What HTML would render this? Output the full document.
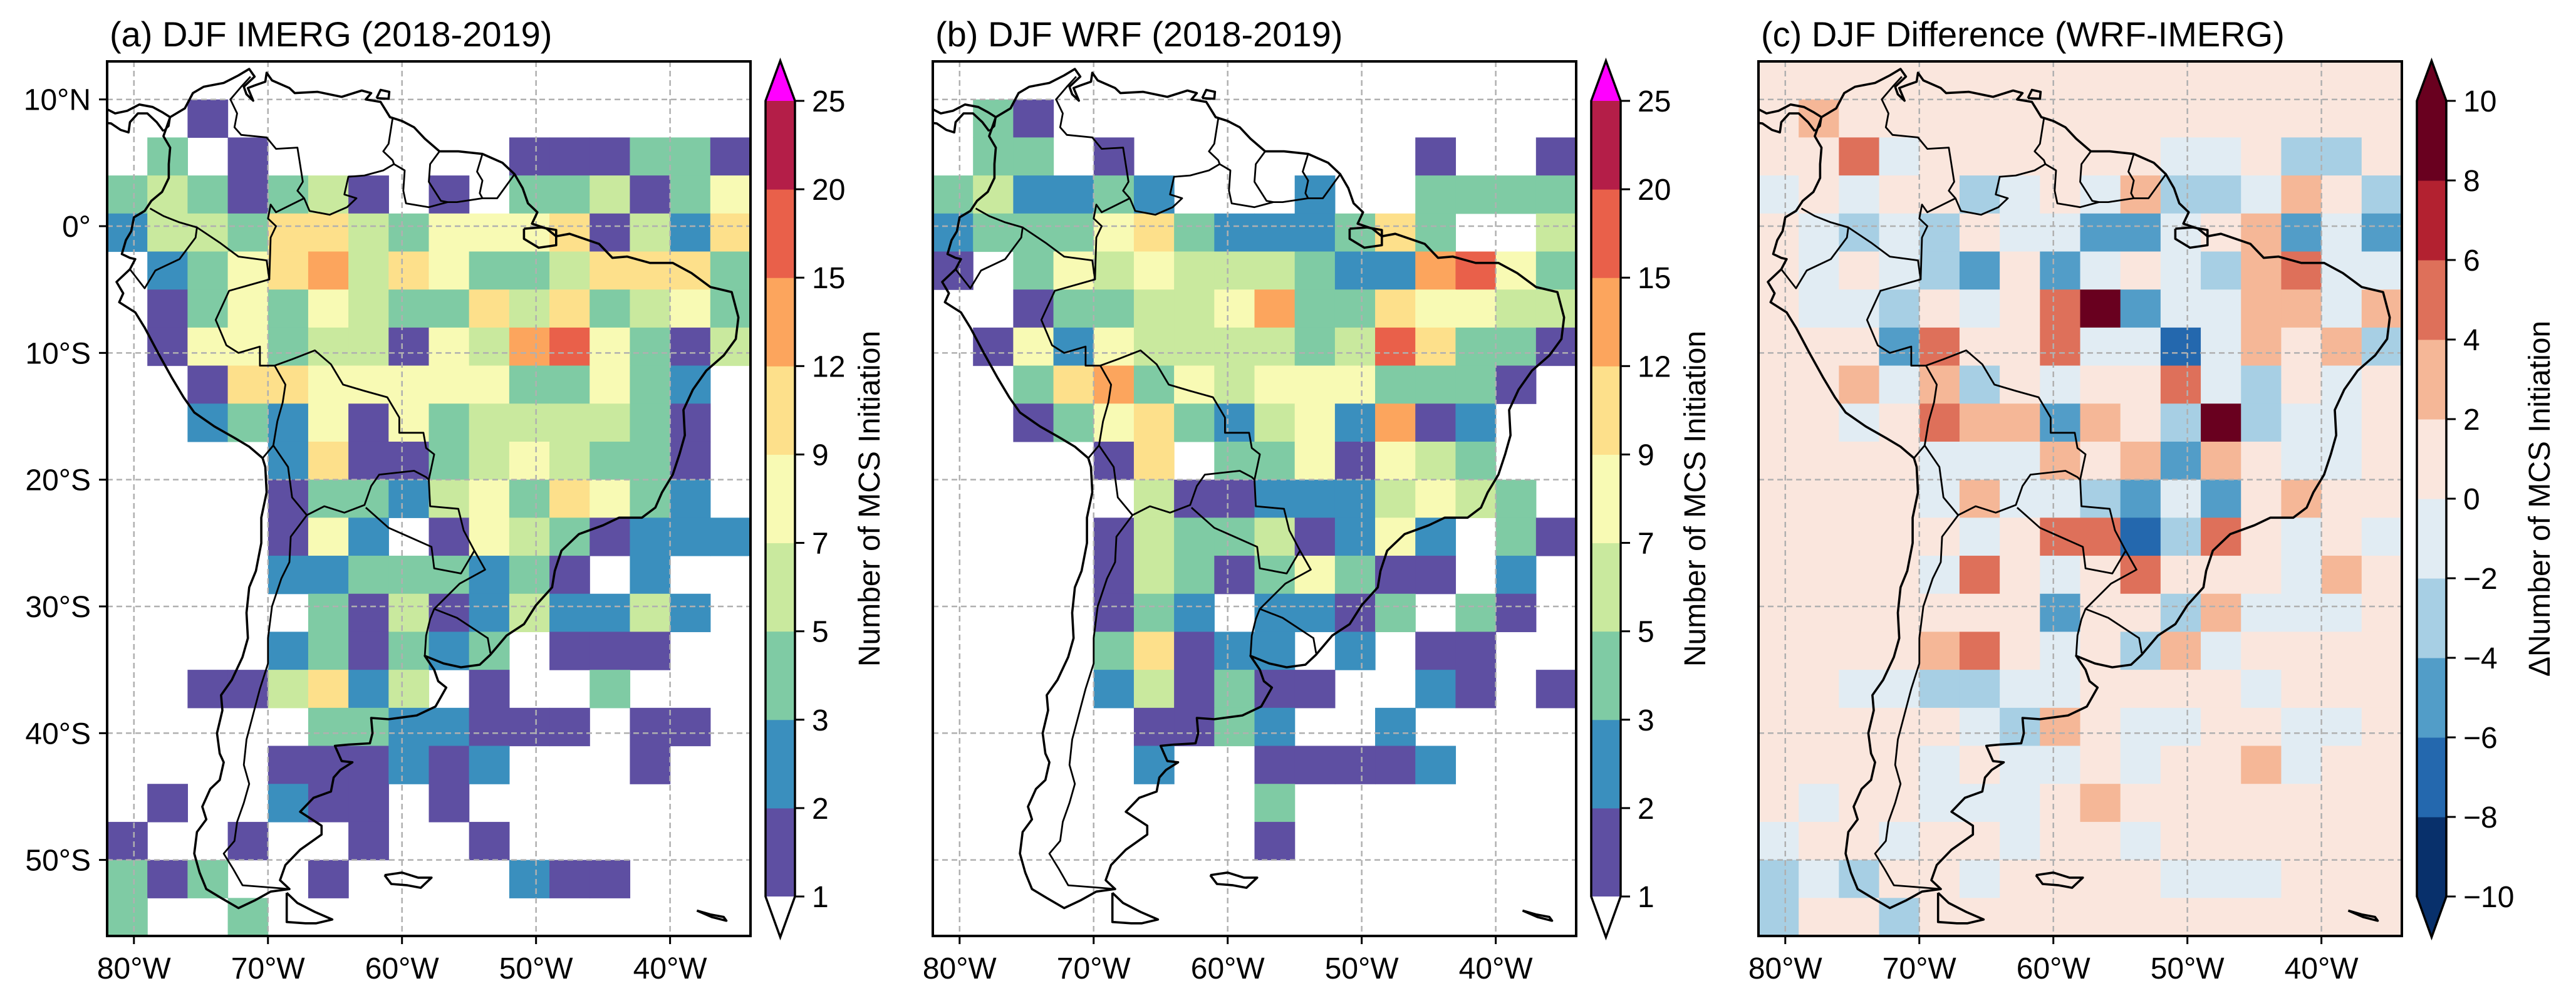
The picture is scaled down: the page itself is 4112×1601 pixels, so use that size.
<!DOCTYPE html>
<html><head><meta charset="utf-8">
<style>
html,body{margin:0;padding:0;background:#fff;}
svg{display:block;font-family:"Liberation Sans",Arial,sans-serif;}
</style></head>
<body>
<svg id="fig" xmlns="http://www.w3.org/2000/svg" width="4112" height="1601" viewBox="0 0 4112 1601"></svg>
<script>
// ---------- DATA ----------
const lonEdges0 = -82, latTop = 13, cellDeg = 3;
const countLevels = [1,2,3,5,7,9,12,15,20,25];
const countColors = ['#5e4fa2','#3a8fbe','#7fcba4','#c9e99e','#f8fab4','#fde08b','#fca55d','#e9604a','#b41e48'];
const diffLevels = [-10,-8,-6,-4,-2,0,2,4,6,8,10];
const diffColors = ['#08306b','#2468ae','#529dc8','#a7cfe4','#e1ecf3','#fae6dd','#f5b797','#de705a','#b32130','#69001f'];
const xTickLabels = ['80°W','70°W','60°W','50°W','40°W'];
const xTickLons = [-80,-70,-60,-50,-40];
const yTickLabels = ['10°N','0°','10°S','20°S','30°S','40°S','50°S'];
const yTickLats = [10,0,-10,-20,-30,-40,-50];

const imergRows = [
[0,0,0,0,0,0,0,0,0,0,0,0,0,0,0,0],
[0,0,1.5,0,0,0,0,0,0,0,0,0,0,0,0,0],
[0,4,0,1.5,0,0,0,0,0,0,1.5,1.5,1.5,4,4,1.5],
[4,6,4,1.5,4,6,1.5,0,1.5,0,4,4,6,1.5,4,8],
[2.5,6,6,4,10,10,6,4,8,8,8,10,1.5,6,2.5,10],
[0,2.5,4,8,10,13,6,10,8,4,4,6,10,10,10,4],
[0,1.5,4,8,4,8,6,4,4,10,6,10,4,6,8,4],
[0,1.5,8,8,4,6,6,1.5,8,6,13,17,8,4,1.5,6],
[0,0,1.5,10,10,8,8,8,8,8,4,4,8,4,2.5,0],
[0,0,2.5,4,2.5,8,1.5,8,4,6,6,6,6,4,1.5,0],
[0,0,0,0,2.5,10,1.5,1.5,4,6,8,6,4,4,1.5,0],
[0,0,0,0,1.5,4,4,2.5,6,8,4,10,8,4,2.5,0],
[0,0,0,0,1.5,8,2.5,0,1.5,8,6,4,1.5,2.5,2.5,2.5],
[0,0,0,0,2.5,2.5,4,4,4,2.5,4,1.5,0,2.5,0,0],
[0,0,0,0,0,4,1.5,6,1.5,2.5,6,2.5,2.5,6,2.5,0],
[0,0,0,0,2.5,4,1.5,4,2.5,4,0,1.5,1.5,1.5,0,0],
[0,0,1.5,1.5,6,10,2.5,6,0,1.5,0,0,4,0,0,0],
[0,0,0,0,0,4,4,2.5,2.5,1.5,1.5,1.5,0,1.5,1.5,0],
[0,0,0,0,1.5,1.5,1.5,2.5,1.5,2.5,0,0,0,1.5,0,0],
[0,1.5,0,0,2.5,1.5,1.5,0,1.5,0,0,0,0,0,0,0],
[1.5,0,0,1.5,0,0,1.5,0,0,1.5,0,0,0,0,0,0],
[4,1.5,4,0,0,1.5,0,0,0,0,2.5,1.5,1.5,0,0,0],
[4,0,0,4,0,0,0,0,0,0,0,0,0,0,0,0]
];
const wrfRows = [
[0,0,0,0,0,0,0,0,0,0,0,0,0,0,0,0],
[0,4,1.5,0,0,0,0,0,0,0,0,0,0,0,0,0],
[0,4,4,0,1.5,0,0,0,0,0,0,0,1.5,0,0,1.5],
[4,6,2.5,2.5,4,2.5,0,0,0,2.5,0,0,4,4,4,4],
[2.5,4,4,4,8,10,4,2.5,2.5,2.5,4,10,4,0,0,6],
[1.5,0,4,8,6,8,6,6,6,4,2.5,2.5,13,17,8,4],
[0,0,1.5,4,4,6,6,8,13,4,4,10,8,8,6,6],
[0,1.5,8,2.5,8,6,6,6,6,4,6,17,10,4,4,1.5],
[0,0,4,10,13,4,8,6,8,8,8,4,4,4,1.5,0],
[0,0,1.5,4,8,10,4,2.5,6,8,2.5,13,1.5,2.5,0,0],
[0,0,0,0,1.5,10,0,4,4,8,1.5,8,6,4,0,0],
[0,0,0,0,0,6,1.5,1.5,2.5,2.5,2.5,6,8,6,4,0],
[0,0,0,0,1.5,6,4,4,6,1.5,2.5,8,2.5,0,4,1.5],
[0,0,0,0,1.5,6,4,1.5,4,8,4,1.5,1.5,0,2.5,0],
[0,0,0,0,1.5,4,2.5,0,2.5,2.5,1.5,4,0,4,1.5,0],
[0,0,0,0,4,10,1.5,2.5,2.5,0,2.5,0,1.5,1.5,0,0],
[0,0,0,0,2.5,6,1.5,4,1.5,1.5,0,0,2.5,1.5,0,1.5],
[0,0,0,0,0,1.5,1.5,4,2.5,0,0,2.5,0,0,0,0],
[0,0,0,0,0,2.5,0,0,1.5,1.5,1.5,1.5,2.5,0,0,0],
[0,0,0,0,0,0,0,0,4,0,0,0,0,0,0,0],
[0,0,0,0,0,0,0,0,1.5,0,0,0,0,0,0,0],
[0,0,0,0,0,0,0,0,0,0,0,0,0,0,0,0],
[0,0,0,0,0,0,0,0,0,0,0,0,0,0,0,0]
];
const diffRows = [
[0.5,0.5,0.5,0.5,0.5,0.5,0.5,0.5,0.5,0.5,0.5,0.5,0.5,0.5,0.5,0.5],
[0.5,3,0.5,0.5,0.5,0.5,0.5,0.5,0.5,0.5,0.5,0.5,0.5,0.5,0.5,0.5],
[0.5,0.5,5,-1,0.5,0.5,0.5,0.5,0.5,0.5,-1,-1,0.5,-3,-3,0.5],
[-1,0.5,-1,0.5,0.5,-3,-1,0.5,-1,3,-3,-3,-1,3,0.5,-3],
[0.5,-1,-3,-1,-3,0.5,-1,-1,-5,-5,-1,0.5,3,-5,-1,-5],
[0.5,-1,0.5,-1,-3,-5,0.5,-5,-1,0.5,-1,-3,3,5,-1,-1],
[0.5,-1,-1,-3,0.5,-1,0.5,5,9,-5,-1,-1,3,3,-1,3],
[0.5,0.5,0.5,-5,5,0.5,0.5,5,-1,-1,-7,-1,3,0.5,3,-3],
[0.5,0.5,3,-1,3,-3,0.5,-1,0.5,0.5,5,-1,-3,0.5,-1,0.5],
[0.5,0.5,-1,0.5,5,3,3,-5,3,0.5,-3,9,-3,-1,-1,0.5],
[0.5,0.5,0.5,0.5,-1,-1,-1,3,0.5,3,-5,3,0.5,-1,-1,0.5],
[0.5,0.5,0.5,0.5,-1,3,-1,-1,-3,-5,-1,-5,0.5,3,0.5,0.5],
[0.5,0.5,0.5,0.5,0.5,-1,0.5,5,5,-7,-3,5,0.5,-1,0.5,-1],
[0.5,0.5,0.5,0.5,-1,5,0.5,-1,0.5,5,0.5,0.5,0.5,-1,3,0.5],
[0.5,0.5,0.5,0.5,0.5,0.5,0.5,-5,0.5,0.5,-3,3,-1,-1,-1,0.5],
[0.5,0.5,0.5,0.5,3,5,0.5,-1,0.5,-3,3,-1,0.5,0.5,0.5,0.5],
[0.5,0.5,-1,-1,-3,-3,-1,-1,0.5,0.5,0.5,0.5,-1,0.5,0.5,0.5],
[0.5,0.5,0.5,0.5,0.5,-1,-3,3,0.5,-1,-1,0.5,0.5,-1,-1,0.5],
[0.5,0.5,0.5,0.5,-1,0.5,-1,-1,0.5,-1,0.5,0.5,3,-1,0.5,0.5],
[0.5,-1,0.5,0.5,-1,-1,-1,0.5,3,0.5,0.5,0.5,0.5,0.5,0.5,0.5],
[-1,0.5,0.5,-1,0.5,0.5,-1,0.5,0.5,-1,0.5,0.5,0.5,0.5,0.5,0.5],
[-3,-1,-3,0.5,0.5,-1,0.5,0.5,0.5,0.5,-1,-1,-1,0.5,0.5,0.5],
[-3,0.5,0.5,-3,0.5,0.5,0.5,0.5,0.5,0.5,0.5,0.5,0.5,0.5,0.5,0.5]
];

// ---------- MAP GEOMETRY (lon,lat) ----------
const coastMain = [[-77.3,8.6],[-76.2,9.3],[-75.6,10.5],[-74.8,11.0],[-73.3,11.3],[-72.2,11.9],[-71.4,12.4],[-71.0,11.8],[-71.8,11.0],[-71.6,10.4],[-71.1,9.9],[-71.5,10.9],[-71.0,11.1],[-70.2,11.4],[-70.1,12.1],[-69.7,11.5],[-68.4,10.9],[-68.0,10.5],[-66.3,10.6],[-64.5,10.2],[-63.0,10.7],[-62.3,10.5],[-62.7,10.0],[-61.6,9.8],[-60.9,8.6],[-60.0,8.3],[-59.1,7.8],[-58.3,6.9],[-57.2,5.9],[-55.8,5.9],[-54.0,5.7],[-52.5,5.0],[-51.6,4.1],[-51.0,3.0],[-50.6,1.8],[-49.9,1.1],[-50.3,0.2],[-49.2,-0.2],[-48.5,-0.8],[-47.5,-0.6],[-45.3,-1.4],[-44.3,-2.5],[-43.2,-2.4],[-41.5,-2.9],[-39.8,-2.9],[-38.4,-3.7],[-37.0,-4.8],[-35.4,-5.2],[-34.9,-7.2],[-35.1,-8.9],[-36.0,-10.2],[-37.3,-11.4],[-38.3,-12.9],[-39.0,-14.5],[-38.9,-16.5],[-39.3,-18.0],[-39.8,-19.6],[-40.6,-21.0],[-41.1,-22.2],[-42.1,-23.0],[-43.8,-23.0],[-45.0,-23.6],[-46.8,-24.3],[-48.1,-25.6],[-48.6,-27.2],[-48.8,-28.5],[-50.0,-29.9],[-50.9,-31.4],[-52.2,-32.3],[-53.4,-33.8],[-54.2,-34.6],[-55.6,-34.8],[-56.9,-34.5],[-58.3,-33.9],[-57.6,-35.0],[-57.3,-35.9],[-56.7,-36.4],[-57.5,-37.9],[-58.9,-38.6],[-61.0,-38.9],[-62.3,-38.8],[-62.2,-40.0],[-62.4,-40.8],[-64.0,-40.9],[-65.0,-41.0],[-64.5,-42.2],[-63.7,-42.3],[-64.6,-42.9],[-65.1,-43.5],[-65.3,-44.6],[-66.6,-45.1],[-67.6,-46.2],[-66.0,-47.3],[-66.0,-48.0],[-67.6,-49.2],[-68.7,-50.4],[-69.1,-51.6],[-68.4,-52.3],[-69.8,-52.5],[-71.0,-53.2],[-72.2,-53.8],[-73.5,-53.0],[-74.6,-52.3],[-75.1,-51.0],[-75.5,-49.5],[-75.3,-47.8],[-74.6,-46.8],[-74.9,-45.8],[-74.3,-44.4],[-73.6,-43.7],[-73.3,-42.3],[-73.6,-41.6],[-73.8,-40.0],[-73.4,-38.2],[-73.5,-37.0],[-72.7,-35.8],[-71.9,-34.0],[-71.5,-32.5],[-71.6,-30.5],[-71.4,-28.5],[-70.9,-27.2],[-70.5,-25.0],[-70.5,-23.0],[-70.1,-21.0],[-70.2,-19.0],[-70.4,-18.3],[-71.4,-17.4],[-72.5,-16.7],[-74.0,-15.8],[-75.5,-14.7],[-76.3,-13.5],[-77.2,-11.9],[-78.2,-10.0],[-79.2,-8.0],[-79.9,-6.8],[-81.1,-6.0],[-80.8,-5.3],[-81.3,-4.4],[-80.3,-3.4],[-79.9,-2.6],[-80.3,-2.5],[-80.9,-2.2],[-80.6,-1.1],[-80.2,-0.4],[-80.0,0.7],[-79.2,1.2],[-78.7,2.0],[-77.9,2.7],[-77.4,3.8],[-77.4,4.9],[-77.3,6.2],[-77.8,7.1],[-77.3,8.6]];
const panama = [[-77.8,7.5],[-78.3,8.2],[-79.0,8.9],[-79.7,8.9],[-80.3,8.2],[-80.4,7.4],[-81.0,7.6],[-81.7,8.1],[-82.5,8.2],[-83.0,8.4],[-83,9.8],[-82.5,9.5],[-81.4,8.9],[-80.5,9.1],[-79.6,9.6],[-78.6,9.4],[-77.9,9.0],[-77.3,8.6]];
const tierra = [[-68.6,-52.6],[-68.6,-54.9],[-67.2,-55.0],[-66.4,-55.0],[-65.2,-54.7],[-66.5,-54.1],[-67.8,-53.4],[-68.6,-52.6]];
const falklands = [[-61.3,-51.2],[-60.0,-51.0],[-58.8,-51.4],[-57.8,-51.4],[-58.6,-52.2],[-59.6,-52.0],[-60.8,-51.9],[-61.3,-51.2]];
const southGeorgia = [[-38.0,-54.0],[-37.0,-54.3],[-36.0,-54.5],[-35.8,-54.8],[-36.9,-54.5],[-38.0,-54.0]];
const trinidad = [[-61.9,10.1],[-61.0,10.05],[-60.95,10.6],[-61.6,10.75],[-61.9,10.1]];
const marajo = [[-50.9,-0.2],[-49.6,-0.1],[-48.5,-0.3],[-48.5,-1.5],[-49.8,-1.7],[-50.9,-1.0],[-50.9,-0.2]];
const borders = [
 [[-51.6,4.1],[-52.9,2.2],[-54.0,2.2],[-55.9,1.9],[-56.6,1.9],[-58.0,1.5],[-59.7,1.8],[-59.9,2.8],[-59.8,4.4],[-60.6,4.9],[-61.4,4.4],[-62.8,4.0],[-64.0,3.9],[-64.3,2.5],[-63.4,2.2],[-64.1,1.5],[-65.4,0.9],[-66.9,1.2],[-67.3,2.2],[-67.8,2.8],[-67.4,3.5],[-67.8,6.2],[-69.4,6.1],[-70.1,7.0],[-72.0,7.2],[-72.5,7.8],[-72.3,8.9],[-72.8,10.0],[-72.0,11.0],[-71.3,11.8]],
 [[-67.3,2.2],[-69.4,1.1],[-69.8,1.7],[-70.0,0.6],[-69.4,0.0],[-69.8,-0.9],[-69.9,-4.2],[-72.9,-5.1],[-73.9,-7.4],[-73.1,-9.4],[-72.2,-10.0],[-70.6,-9.5],[-70.6,-11.0],[-69.5,-11.0],[-68.7,-12.5],[-68.9,-13.9],[-69.3,-15.4],[-69.6,-17.3],[-70.4,-18.3]],
 [[-69.5,-11.0],[-68.2,-10.5],[-66.5,-9.8],[-65.3,-10.9],[-64.4,-12.5],[-62.8,-13.0],[-61.1,-13.5],[-60.2,-15.1],[-60.2,-16.3],[-58.4,-16.3],[-58.2,-17.5],[-57.6,-18.0],[-58.0,-20.0],[-57.9,-22.1],[-55.8,-22.3],[-55.4,-24.0],[-54.6,-25.6],[-53.8,-27.1],[-55.7,-28.2],[-57.6,-30.2],[-55.9,-30.9],[-53.6,-32.5],[-53.4,-33.7]],
 [[-69.6,-17.3],[-68.5,-19.0],[-68.2,-21.4],[-67.1,-22.8],[-65.8,-22.1],[-64.3,-22.6],[-62.8,-22.0],[-62.3,-20.5],[-61.7,-19.6],[-59.1,-19.3],[-58.2,-19.8],[-58.0,-20.0]],
 [[-62.7,-22.2],[-61.0,-23.8],[-59.5,-24.5],[-57.8,-25.3],[-57.6,-27.0],[-55.6,-27.4],[-54.6,-25.6]],
 [[-58.3,-33.9],[-58.2,-32.3],[-57.9,-31.0],[-57.6,-30.2]],
 [[-67.1,-22.8],[-68.3,-24.5],[-68.4,-26.5],[-69.0,-27.8],[-69.7,-30.0],[-70.0,-32.5],[-70.0,-34.5],[-70.6,-36.5],[-71.1,-38.5],[-71.6,-40.5],[-71.8,-42.5],[-71.4,-44.0],[-71.8,-45.5],[-72.3,-47.0],[-72.5,-48.5],[-73.3,-49.5],[-72.6,-50.7],[-71.9,-52.0],[-69.5,-52.2],[-68.4,-52.3]],
 [[-80.3,-3.4],[-79.2,-4.9],[-78.4,-3.5],[-76.6,-2.6],[-75.4,-0.9],[-75.3,-0.1],[-76.6,0.3],[-77.8,0.8],[-78.8,1.4]],
 [[-75.3,-0.1],[-73.6,-1.3],[-72.2,-2.4],[-70.1,-2.7],[-69.9,-4.2]],
 [[-60.7,8.5],[-61.0,6.5],[-61.4,5.9],[-60.7,5.2],[-60.6,4.9]],
 [[-57.2,5.9],[-57.9,4.9],[-58.0,3.5],[-57.1,2.0],[-56.6,1.9]],
 [[-54.0,5.7],[-54.4,4.3],[-54.0,3.6],[-54.2,2.6],[-54.0,2.2]],
 [[-77.3,8.6],[-77.4,7.9],[-77.8,7.5]],
 [[-68.6,-52.6],[-68.6,-54.9]]
];

// ---------- HELPERS ----------
const NS='http://www.w3.org/2000/svg';
const svg=document.getElementById('fig');
function mk(tag,attrs,parent){const e=document.createElementNS(NS,tag);for(const k in attrs)e.setAttribute(k,attrs[k]);(parent||svg).appendChild(e);return e;}
const PW=1027, PH=1396, PY=98;
const panelX=[171,1489,2807];
const lonMin=-82, lonMax=-34, latMax=13, latMin=-56;
function xScale(px){return lon=>px+(lon-lonMin)/(lonMax-lonMin)*PW;}
function yScale(lat){return PY+(latMax-lat)/(latMax-latMin)*PH;}
function binColor(v,levels,colors){for(let i=0;i<colors.length;i++){if(v>=levels[i]&&v<levels[i+1])return colors[i];}return v>=levels[levels.length-1]?colors[colors.length-1]:colors[0];}
function pathD(pts,x){return pts.map((p,i)=>(i?'L':'M')+x(p[0]).toFixed(1)+' '+yScale(p[1]).toFixed(1)).join('');}

const defs=mk('defs',{});

function drawPanel(idx,title,rows,levels,colors,isDiff){
  const px=panelX[idx]; const x=xScale(px);
  const g=mk('g',{});
  
  
  const cp=mk('clipPath',{id:'clip'+idx},defs);
  mk('rect',{x:px,y:PY,width:PW,height:PH},cp);
  const inner=mk('g',{'clip-path':'url(#clip'+idx+')'},g);
  if(isDiff){ mk('rect',{x:px,y:PY,width:PW,height:PH,fill:'#fff'},inner); }
  rows.forEach((row,r)=>{
    row.forEach((v,c)=>{
      if(!isDiff && v<=0) return;
      const lon0=lonEdges0+c*cellDeg, lat0=latTop-r*cellDeg;
      const x0=x(lon0), x1=x(lon0+cellDeg), y0=yScale(lat0), y1=yScale(lat0-cellDeg);
      const rc=mk('rect',{x:x0.toFixed(2),y:y0.toFixed(2),width:(x1-x0+0.6).toFixed(2),height:(y1-y0+0.6).toFixed(2),fill:binColor(v,levels,colors)},inner);
      
      
    });
  });
  xTickLons.forEach(l=>{mk('line',{x1:x(l),x2:x(l),y1:PY,y2:PY+PH,stroke:'#b0b0b0','stroke-width':2.5,'stroke-dasharray':'9 6'},inner);});
  yTickLats.forEach(l=>{mk('line',{x1:px,x2:px+PW,y1:yScale(l),y2:yScale(l),stroke:'#b0b0b0','stroke-width':2.5,'stroke-dasharray':'9 6'},inner);});
  const cg=mk('g',{fill:'none',stroke:'#000','stroke-width':3.6,'stroke-linejoin':'round'},inner);
  
  
  [coastMain,panama,tierra,falklands,southGeorgia,trinidad,marajo].forEach(p=>mk('path',{d:pathD(p,x)},cg));
  const bg=mk('g',{fill:'none',stroke:'#000','stroke-width':2.8,'stroke-linejoin':'round'},inner);
  
  
  borders.forEach(p=>mk('path',{d:pathD(p,x)},bg));
  const fr=mk('rect',{x:px,y:PY,width:PW,height:PH,fill:'none',stroke:'#000','stroke-width':4},g);
  
  
  const t=mk('text',{x:px+4,y:74,'font-size':56,fill:'#000'},g);
  t.textContent=title;
  
  
  xTickLons.forEach((l,i)=>{
    mk('line',{x1:x(l),x2:x(l),y1:PY+PH,y2:PY+PH+13,stroke:'#000','stroke-width':3},g);
    const tl=mk('text',{x:x(l),y:1562,'font-size':48,'text-anchor':'middle'},g);
    tl.textContent=xTickLabels[i];
    
    
  });
  if(idx===0){
    yTickLats.forEach((l,i)=>{
      mk('line',{x1:px-13,x2:px,y1:yScale(l),y2:yScale(l),stroke:'#000','stroke-width':3},g);
      const tl=mk('text',{x:px-26,y:yScale(l)+17,'font-size':48,'text-anchor':'end'},g);
      tl.textContent=yTickLabels[i];
      
      
    });
  }
}

function drawColorbar(idx,levels,colors,topColor,botColor,label,labelDx,tickText){
  const cx=panelX[idx]+1051, cw=47, top=161, bot=1431, tipT=97, tipB=1496;
  const g=mk('g',{});
  
  
  const n=colors.length, bh=(bot-top)/n;
  colors.forEach((c,i)=>{mk('rect',{x:cx,y:(bot-(i+1)*bh).toFixed(2),width:cw,height:(bh+0.5).toFixed(2),fill:c},g);});
  mk('path',{d:`M${cx} ${top} L${cx+cw/2} ${tipT} L${cx+cw} ${top} Z`,fill:topColor},g);
  mk('path',{d:`M${cx} ${bot} L${cx+cw/2} ${tipB} L${cx+cw} ${bot} Z`,fill:botColor},g);
  mk('path',{d:`M${cx} ${top} L${cx+cw/2} ${tipT} L${cx+cw} ${top} L${cx+cw} ${bot} L${cx+cw/2} ${tipB} L${cx} ${bot} Z`,fill:'none',stroke:'#000','stroke-width':3.5},g);
  levels.forEach((lv,i)=>{
    const y=bot-i*bh;
    mk('line',{x1:cx+cw,x2:cx+cw+15,y1:y,y2:y,stroke:'#000','stroke-width':3},g);
    const t=mk('text',{x:cx+cw+27,y:y+17,'font-size':48},g);
    t.textContent=tickText(lv);
    
    
  });
  const lx=cx+labelDx, ly=(top+bot)/2;
  const lt=mk('text',{x:lx,y:ly,'font-size':48,'text-anchor':'middle',transform:`rotate(-90 ${lx} ${ly})`},g);
  lt.textContent=label;
  
  
}

drawPanel(0,'(a) DJF IMERG (2018-2019)',imergRows,countLevels,countColors,false);
drawPanel(1,'(b) DJF WRF (2018-2019)',wrfRows,countLevels,countColors,false);
drawPanel(2,'(c) DJF Difference (WRF-IMERG)',diffRows,diffLevels,diffColors,true);
drawColorbar(0,countLevels,countColors,'#ff00ff','#ffffff','Number of MCS Initiation',182,v=>String(v));
drawColorbar(1,countLevels,countColors,'#ff00ff','#ffffff','Number of MCS Initiation',182,v=>String(v));
drawColorbar(2,diffLevels,diffColors,'#69001f','#08306b','\u0394Number of MCS Initiation',212,v=>v<0?'\u2212'+Math.abs(v):String(v));
</script>
</body></html>
